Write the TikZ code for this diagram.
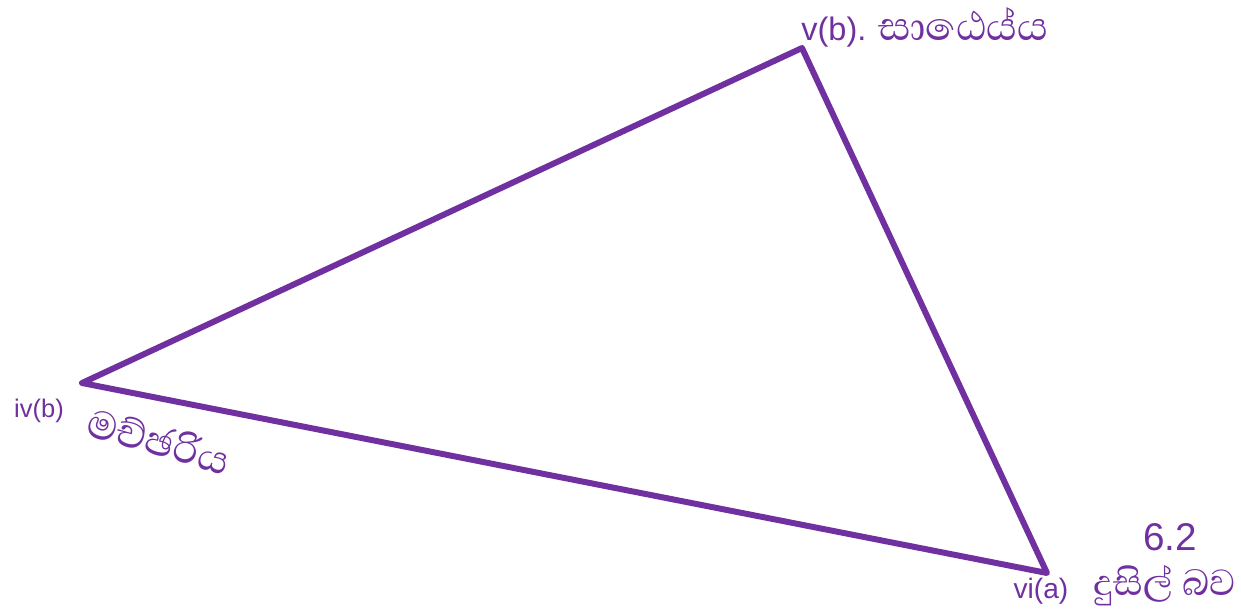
\documentclass[tikz,border=0pt]{standalone}
\usepackage{fontspec}
\setmainfont{Liberation Sans}
\newfontfamily\sinhfont[Script=Sinhala]{Abhaya Libre}
\definecolor{vio}{HTML}{7030A0}
\begin{document}
\begin{tikzpicture}[x=0.02cm,y=-0.02cm,
  edge/.style={draw=vio,line width=3.4pt,line join=round,line cap=round},
  lbl/.style={text=vio,inner sep=0pt,anchor=center}]
\useasboundingbox (0,0) rectangle (1241,613);
\coordinate (T) at (802,48);
\coordinate (L) at (82,383);
\coordinate (R) at (1047,573);
\draw[edge] (T) -- (L) -- (R) -- cycle;
\node[lbl,anchor=west] (tl) at (801,27) {\fontsize{18.5}{20}\selectfont v(b). {\fontsize{29}{30}\selectfont\sinhfont සාඨෙය්ය}};
\node[lbl] (ivb) at (39,411) {\fontsize{14.5}{16}\selectfont iv(b)};
\node[lbl,rotate=-16] (mac) at (159,440) {\fontsize{29}{30}\selectfont\sinhfont මච්ඡරිය};
\node[lbl] (num) at (1170,537) {\fontsize{22}{24}\selectfont 6.2};
\node[lbl] (via) at (1041,591) {\fontsize{16}{18}\selectfont vi(a)};
\node[lbl] (dus) at (1165,586) {\fontsize{26.5}{28}\selectfont\sinhfont දුසිල් බව};
\end{tikzpicture}
\end{document}
